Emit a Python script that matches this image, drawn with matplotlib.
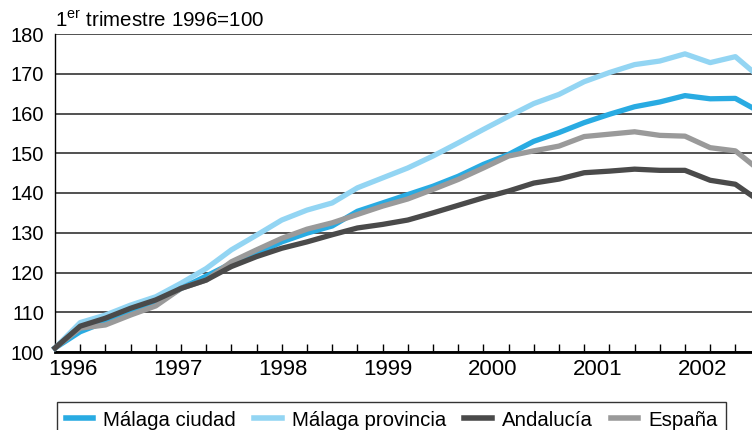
import numpy as np
import matplotlib
matplotlib.use("Agg")
import matplotlib.pyplot as plt

plt.rcParams['font.family'] = ['Liberation Sans', 'DejaVu Sans']
plt.rcParams['mathtext.fontset'] = 'custom'
plt.rcParams['mathtext.rm'] = 'Liberation Sans'

# indices trimestrales, 1er trimestre 1996 = 100
ciudad = [101, 105.1, 107.6, 110.1, 112.2, 116.0, 119.1, 122.3, 124.8, 127.7,
          129.9, 131.7, 135.4, 137.5, 139.6, 141.7, 144.2, 147.2, 149.7, 153.0,
          155.2, 157.7, 159.8, 161.7, 162.9, 164.5, 163.7, 163.8, 160.3]
provincia = [101, 107.4, 109.3, 111.8, 113.9, 117.3, 121.0, 125.7, 129.4, 133.2,
             135.7, 137.5, 141.3, 143.8, 146.3, 149.3, 152.6, 156.0, 159.3, 162.5,
             164.8, 168.0, 170.3, 172.3, 173.2, 175.0, 172.8, 174.3, 168.9]
andalucia = [101, 106.5, 108.5, 111.0, 113.1, 116.0, 118.1, 121.5, 124.0, 126.1,
             127.7, 129.5, 131.2, 132.1, 133.2, 135.0, 136.9, 138.8, 140.5, 142.5,
             143.5, 145.1, 145.5, 146.0, 145.7, 145.7, 143.2, 142.2, 137.8]
espana = [101, 106.0, 106.8, 109.3, 111.6, 116.0, 118.1, 122.7, 125.7, 128.6,
          130.9, 132.5, 134.6, 136.7, 138.5, 140.9, 143.4, 146.3, 149.3, 150.6,
          151.8, 154.2, 154.8, 155.4, 154.5, 154.3, 151.4, 150.6, 145.5]
years = ['1996', '1997', '1998', '1999', '2000', '2001', '2002']

x = np.arange(len(ciudad))

fig = plt.figure(figsize=(7.52, 4.30), dpi=100)
ax = fig.add_axes([55/752, 1-352/430, 697/752, 318/430])

lw = 3.8
l_prov, = ax.plot(x, provincia, color='#93d5f3', lw=lw, clip_on=False, zorder=3)
l_ciu, = ax.plot(x, ciudad, color='#29abe2', lw=lw, clip_on=False, zorder=4)
l_esp, = ax.plot(x, espana, color='#9a9a9a', lw=lw, clip_on=False, zorder=5)
l_and, = ax.plot(x, andalucia, color='#4a4a4a', lw=lw, clip_on=False, zorder=6)

ax.set_xlim(0, 27.66)
ax.set_ylim(100, 180)
ax.set_yticks(np.arange(100, 181, 10))
ax.yaxis.grid(True, color='#333333', lw=1.2)
ax.set_axisbelow(True)

ax.set_xticks(0.71 + 4.166*np.arange(len(years)))
ax.set_xticklabels(years)
ax.set_xticks(np.arange(0, 28), minor=True)
ax.tick_params(axis='x', which='major', length=0, pad=5, labelsize=16)
ax.tick_params(axis='x', which='minor', direction='in', length=5.5, width=1)
ax.tick_params(axis='y', length=0, pad=8, labelsize=14.5)

for s in ['top', 'right']:
    ax.spines[s].set_visible(False)
ax.spines['left'].set_linewidth(1)
ax.spines['bottom'].set_linewidth(2)

fig.text(55/752, 1-27/430, r'1$^{\mathrm{er}}$ trimestre 1996=100',
         fontsize=14.8, va='baseline')

leg = fig.legend([l_ciu, l_prov, l_and, l_esp],
                 ['Málaga ciudad', 'Málaga provincia', 'Andalucía', 'España'],
                 loc='upper left', bbox_to_anchor=(57/752, 1-402/430),
                 ncol=4, fontsize=14.7, frameon=True, fancybox=False,
                 borderaxespad=0, handlelength=1.35, handletextpad=0.5,
                 columnspacing=0.88, borderpad=0.42)
leg.get_frame().set_edgecolor('black')
leg.get_frame().set_linewidth(1)
for h in leg.get_lines():
    h.set_linewidth(4)

fig.savefig('out.png', dpi=100)
